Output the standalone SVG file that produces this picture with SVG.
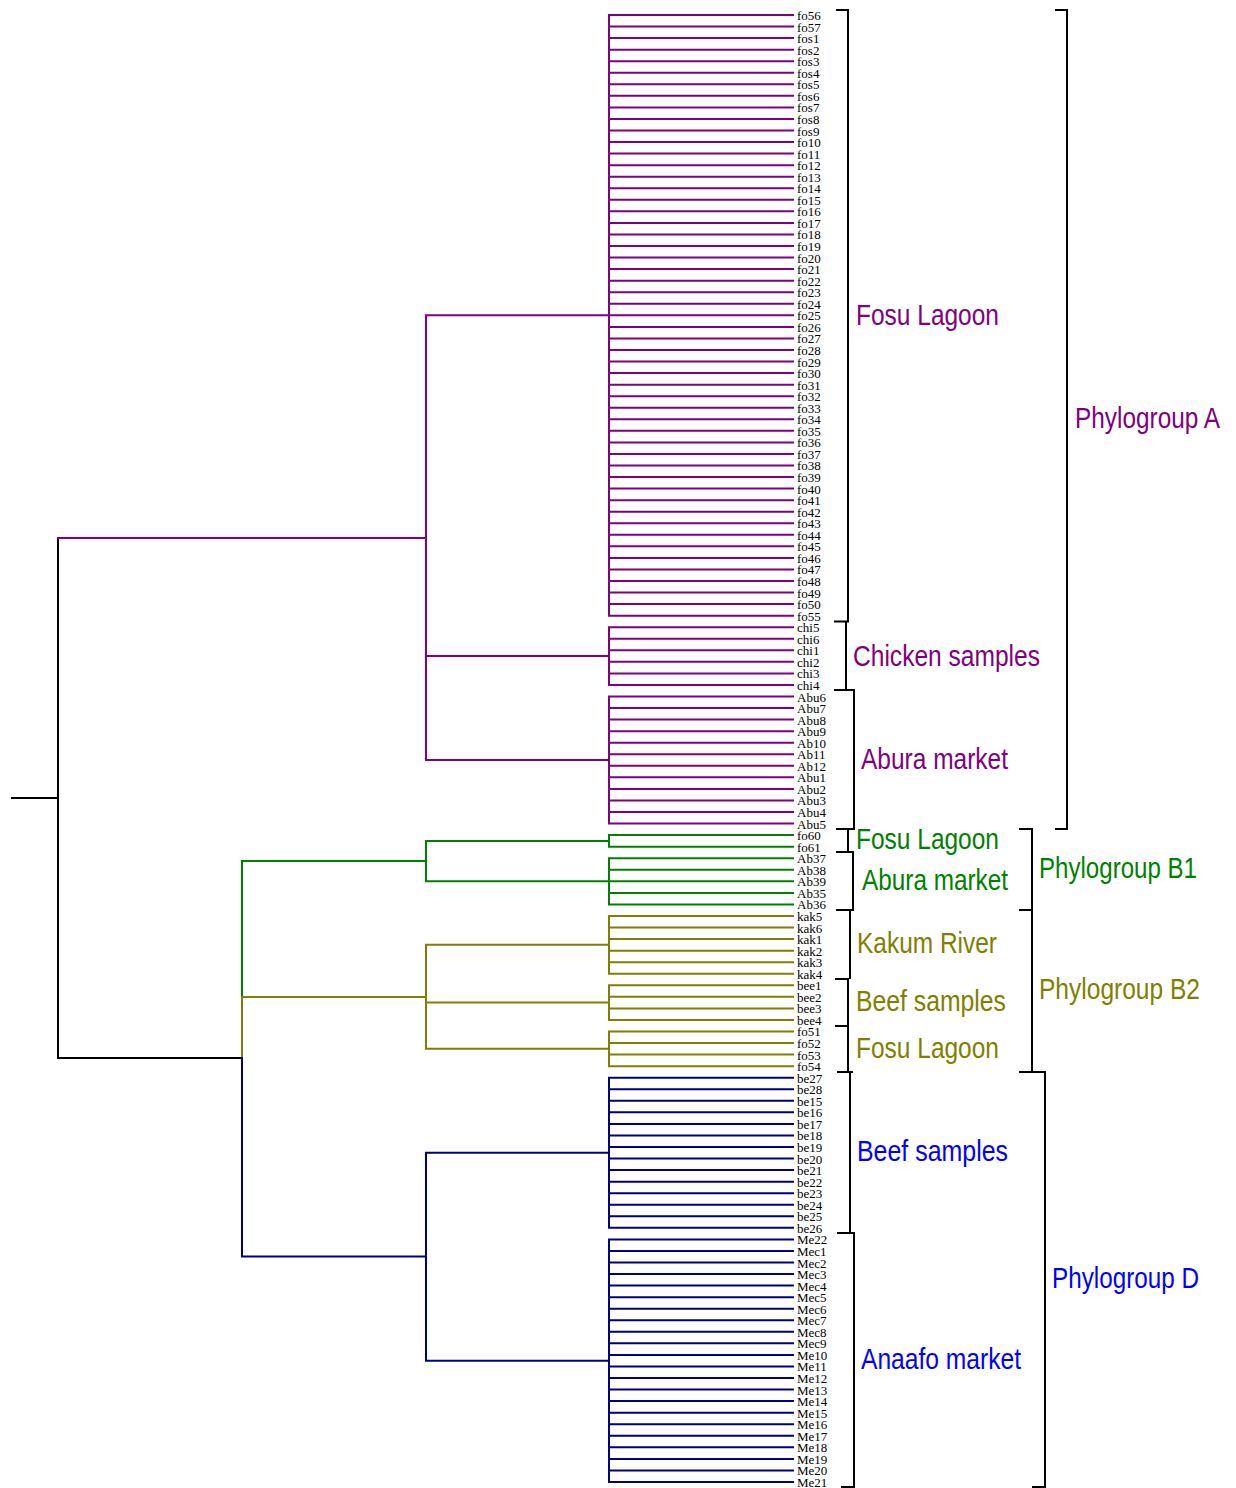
<svg xmlns="http://www.w3.org/2000/svg" width="1236" height="1488" viewBox="0 0 1236 1488">
<style>
.ln{fill:none;stroke-width:2;stroke-linecap:square}
.pu{stroke:#800080}.gr{stroke:#008000}.ol{stroke:#808000}.nv{stroke:#000080}.bk{stroke:#000000}
.br{fill:none;stroke:#000;stroke-width:2}
.lf{font-family:"Liberation Serif","Times New Roman",serif;font-size:13px;fill:#000}
.gl{font-family:"Liberation Sans",Arial,sans-serif;font-size:29px}
.tpu{fill:#800080}.tgr{fill:#008000}.tol{fill:#808000}.tbl{fill:#0000FF}
</style>
<rect width="1236" height="1488" fill="#fff"/>
<g id="connectors">
<path class="ln bk" d="M12 798H58M58 538V1058M58 1058H242"/>
<path class="ln pu" d="M58 538H426M426 315.3V760M426 315.3H609M426 656H609M426 760H609"/>
<path class="ln pu" d="M609 15V615.65M609 15H793M609 26.55H793M609 38.1H793M609 49.65H793M609 61.2H793M609 72.76H793M609 84.31H793M609 95.86H793M609 107.41H793M609 118.96H793M609 130.51H793M609 142.06H793M609 153.61H793M609 165.16H793M609 176.71H793M609 188.27H793M609 199.82H793M609 211.37H793M609 222.92H793M609 234.47H793M609 246.02H793M609 257.57H793M609 269.12H793M609 280.67H793M609 292.22H793M609 303.78H793M609 315.33H793M609 326.88H793M609 338.43H793M609 349.98H793M609 361.53H793M609 373.08H793M609 384.63H793M609 396.18H793M609 407.73H793M609 419.29H793M609 430.84H793M609 442.39H793M609 453.94H793M609 465.49H793M609 477.04H793M609 488.59H793M609 500.14H793M609 511.69H793M609 523.24H793M609 534.8H793M609 546.35H793M609 557.9H793M609 569.45H793M609 581H793M609 592.55H793M609 604.1H793M609 615.65H793"/>
<path class="ln pu" d="M609 627.2V684.96M609 627.2H793M609 638.75H793M609 650.31H793M609 661.86H793M609 673.41H793M609 684.96H793"/>
<path class="ln pu" d="M609 696.51V823.57M609 696.51H793M609 708.06H793M609 719.61H793M609 731.16H793M609 742.71H793M609 754.26H793M609 765.82H793M609 777.37H793M609 788.92H793M609 800.47H793M609 812.02H793M609 823.57H793"/>
<path class="ln gr" d="M242 861V997M242 861H426M426 840.9V881.3M426 840.9H609M426 881.3H609M609 835.12V846.67M609 835.12H793M609 846.67H793M609 858.22V904.43M609 858.22H793M609 869.77H793M609 881.33H793M609 892.88H793M609 904.43H793"/>
<path class="ln ol" d="M242 997V1058M242 997H426M426 944.8V1048.8M426 944.8H609M426 1002.6H609M426 1048.8H609M609 915.98V973.73M609 915.98H793M609 927.53H793M609 939.08H793M609 950.63H793M609 962.18H793M609 973.73H793M609 985.28V1019.94M609 985.28H793M609 996.84H793M609 1008.39H793M609 1019.94H793M609 1031.49V1066.14M609 1031.49H793M609 1043.04H793M609 1054.59H793M609 1066.14H793"/>
<path class="ln nv" d="M242 1058V1256.6M242 1256.6H426M426 1152.8V1360.7M426 1152.8H609M426 1360.7H609M609 1077.69V1227.86M609 1077.69H793M609 1089.24H793M609 1100.79H793M609 1112.35H793M609 1123.9H793M609 1135.45H793M609 1147H793M609 1158.55H793M609 1170.1H793M609 1181.65H793M609 1193.2H793M609 1204.75H793M609 1216.3H793M609 1227.86H793"/>
<path class="ln nv" d="M609 1239.41V1481.98M609 1239.41H793M609 1250.96H793M609 1262.51H793M609 1274.06H793M609 1285.61H793M609 1297.16H793M609 1308.71H793M609 1320.26H793M609 1331.81H793M609 1343.37H793M609 1354.92H793M609 1366.47H793M609 1378.02H793M609 1389.57H793M609 1401.12H793M609 1412.67H793M609 1424.22H793M609 1435.77H793M609 1447.32H793M609 1458.88H793M609 1470.43H793M609 1481.98H793"/>
</g>
<g id="brackets">
<path class="br" d="M836 10H848V621.5M834 621.5H849M846 621.5V690M834 690H854V829H836"/>
<path class="br" d="M848 829V852M836 852H853V910H836M850 910V979M835 979H848V1026M835 1026H848V1072M837 1072H853M850 1072V1233M837 1233H854V1487H841"/>
<path class="br" d="M1055 10H1067V829H1055"/>
<path class="br" d="M1019 829H1032V1072M1019 910H1032M1019 1072H1045V1487H1032"/>
</g>
<g id="leaves-fosu-A" class="lf">
<text x="797" y="20">fo56</text><text x="797" y="31.55">fo57</text><text x="797" y="43.1">fos1</text><text x="797" y="54.65">fos2</text><text x="797" y="66.2">fos3</text><text x="797" y="77.76">fos4</text><text x="797" y="89.31">fos5</text><text x="797" y="100.86">fos6</text><text x="797" y="112.41">fos7</text><text x="797" y="123.96">fos8</text><text x="797" y="135.51">fos9</text><text x="797" y="147.06">fo10</text><text x="797" y="158.61">fo11</text><text x="797" y="170.16">fo12</text><text x="797" y="181.71">fo13</text><text x="797" y="193.27">fo14</text><text x="797" y="204.82">fo15</text><text x="797" y="216.37">fo16</text><text x="797" y="227.92">fo17</text><text x="797" y="239.47">fo18</text><text x="797" y="251.02">fo19</text><text x="797" y="262.57">fo20</text><text x="797" y="274.12">fo21</text><text x="797" y="285.67">fo22</text><text x="797" y="297.22">fo23</text><text x="797" y="308.78">fo24</text><text x="797" y="320.33">fo25</text><text x="797" y="331.88">fo26</text><text x="797" y="343.43">fo27</text><text x="797" y="354.98">fo28</text><text x="797" y="366.53">fo29</text><text x="797" y="378.08">fo30</text><text x="797" y="389.63">fo31</text><text x="797" y="401.18">fo32</text><text x="797" y="412.73">fo33</text><text x="797" y="424.29">fo34</text><text x="797" y="435.84">fo35</text><text x="797" y="447.39">fo36</text><text x="797" y="458.94">fo37</text><text x="797" y="470.49">fo38</text><text x="797" y="482.04">fo39</text><text x="797" y="493.59">fo40</text><text x="797" y="505.14">fo41</text><text x="797" y="516.69">fo42</text><text x="797" y="528.24">fo43</text><text x="797" y="539.8">fo44</text><text x="797" y="551.35">fo45</text><text x="797" y="562.9">fo46</text><text x="797" y="574.45">fo47</text><text x="797" y="586">fo48</text><text x="797" y="597.55">fo49</text><text x="797" y="609.1">fo50</text><text x="797" y="620.65">fo55</text>
</g>
<g id="leaves-chicken" class="lf">
<text x="797" y="632.2">chi5</text><text x="797" y="643.75">chi6</text><text x="797" y="655.31">chi1</text><text x="797" y="666.86">chi2</text><text x="797" y="678.41">chi3</text><text x="797" y="689.96">chi4</text>
</g>
<g id="leaves-abura-A" class="lf">
<text x="797" y="701.51">Abu6</text><text x="797" y="713.06">Abu7</text><text x="797" y="724.61">Abu8</text><text x="797" y="736.16">Abu9</text><text x="797" y="747.71">Ab10</text><text x="797" y="759.26">Ab11</text><text x="797" y="770.82">Ab12</text><text x="797" y="782.37">Abu1</text><text x="797" y="793.92">Abu2</text><text x="797" y="805.47">Abu3</text><text x="797" y="817.02">Abu4</text><text x="797" y="828.57">Abu5</text>
</g>
<g id="leaves-B1" class="lf">
<text x="797" y="840.12">fo60</text><text x="797" y="851.67">fo61</text><text x="797" y="863.22">Ab37</text><text x="797" y="874.77">Ab38</text><text x="797" y="886.33">Ab39</text><text x="797" y="897.88">Ab35</text><text x="797" y="909.43">Ab36</text>
</g>
<g id="leaves-B2" class="lf">
<text x="797" y="920.98">kak5</text><text x="797" y="932.53">kak6</text><text x="797" y="944.08">kak1</text><text x="797" y="955.63">kak2</text><text x="797" y="967.18">kak3</text><text x="797" y="978.73">kak4</text><text x="797" y="990.28">bee1</text><text x="797" y="1001.84">bee2</text><text x="797" y="1013.39">bee3</text><text x="797" y="1024.94">bee4</text><text x="797" y="1036.49">fo51</text><text x="797" y="1048.04">fo52</text><text x="797" y="1059.59">fo53</text><text x="797" y="1071.14">fo54</text>
</g>
<g id="leaves-beef-D" class="lf">
<text x="797" y="1082.69">be27</text><text x="797" y="1094.24">be28</text><text x="797" y="1105.79">be15</text><text x="797" y="1117.35">be16</text><text x="797" y="1128.9">be17</text><text x="797" y="1140.45">be18</text><text x="797" y="1152">be19</text><text x="797" y="1163.55">be20</text><text x="797" y="1175.1">be21</text><text x="797" y="1186.65">be22</text><text x="797" y="1198.2">be23</text><text x="797" y="1209.75">be24</text><text x="797" y="1221.3">be25</text><text x="797" y="1232.86">be26</text>
</g>
<g id="leaves-anaafo" class="lf">
<text x="797" y="1244.41">Me22</text><text x="797" y="1255.96">Mec1</text><text x="797" y="1267.51">Mec2</text><text x="797" y="1279.06">Mec3</text><text x="797" y="1290.61">Mec4</text><text x="797" y="1302.16">Mec5</text><text x="797" y="1313.71">Mec6</text><text x="797" y="1325.26">Mec7</text><text x="797" y="1336.81">Mec8</text><text x="797" y="1348.37">Mec9</text><text x="797" y="1359.92">Me10</text><text x="797" y="1371.47">Me11</text><text x="797" y="1383.02">Me12</text><text x="797" y="1394.57">Me13</text><text x="797" y="1406.12">Me14</text><text x="797" y="1417.67">Me15</text><text x="797" y="1429.22">Me16</text><text x="797" y="1440.77">Me17</text><text x="797" y="1452.32">Me18</text><text x="797" y="1463.88">Me19</text><text x="797" y="1475.43">Me20</text><text x="797" y="1486.98">Me21</text>
</g>
<g id="group-labels" class="gl">
<text class="tpu" x="856" y="325" textLength="143" lengthAdjust="spacingAndGlyphs">Fosu Lagoon</text>
<text class="tpu" x="853" y="666" textLength="187" lengthAdjust="spacingAndGlyphs">Chicken samples</text>
<text class="tpu" x="861" y="769" textLength="147" lengthAdjust="spacingAndGlyphs">Abura market</text>
<text class="tpu" x="1075" y="428" textLength="145" lengthAdjust="spacingAndGlyphs">Phylogroup A</text>
<text class="tgr" x="856" y="849" textLength="143" lengthAdjust="spacingAndGlyphs">Fosu Lagoon</text>
<text class="tgr" x="862" y="890" textLength="146" lengthAdjust="spacingAndGlyphs">Abura market</text>
<text class="tgr" x="1039" y="878" textLength="158" lengthAdjust="spacingAndGlyphs">Phylogroup B1</text>
<text class="tol" x="857" y="953" textLength="140" lengthAdjust="spacingAndGlyphs">Kakum River</text>
<text class="tol" x="856" y="1011" textLength="150" lengthAdjust="spacingAndGlyphs">Beef samples</text>
<text class="tol" x="856" y="1058" textLength="143" lengthAdjust="spacingAndGlyphs">Fosu Lagoon</text>
<text class="tol" x="1039" y="999" textLength="161" lengthAdjust="spacingAndGlyphs">Phylogroup B2</text>
<text class="tbl" x="857" y="1161" textLength="151" lengthAdjust="spacingAndGlyphs">Beef samples</text>
<text class="tbl" x="861" y="1369" textLength="160" lengthAdjust="spacingAndGlyphs">Anaafo market</text>
<text class="tbl" x="1052" y="1288" textLength="147" lengthAdjust="spacingAndGlyphs">Phylogroup D</text>
</g>
</svg>
